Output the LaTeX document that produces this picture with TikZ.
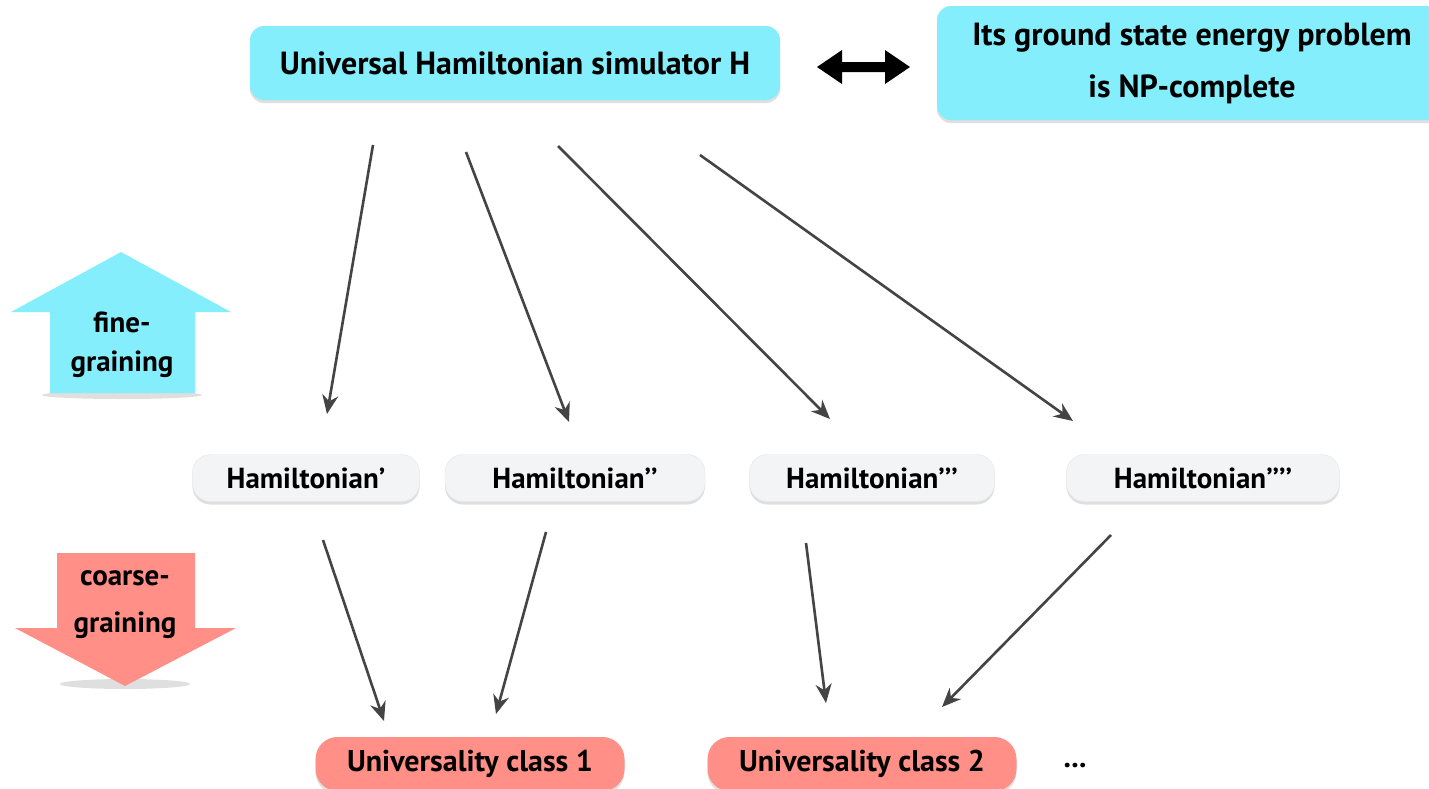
\documentclass[tikz,border=0pt]{standalone}
\usepackage{fontspec}
\setmainfont{PT Sans}
\usetikzlibrary{arrows.meta,shadows}
\definecolor{cyanfill}{HTML}{84EEFC}
\definecolor{pinkfill}{HTML}{FF8F87}
\definecolor{grayfill}{HTML}{F3F4F6}
\definecolor{arrowgray}{HTML}{444444}
\tikzset{
  base/.style={align=center, inner sep=0pt,
    drop shadow={shadow xshift=0pt, shadow yshift=-3pt, opacity=0.25}},
  topbox/.style={base, font=\fontsize{32}{40}\selectfont\bfseries, fill=cyanfill, rounded corners=14pt},
  hambox/.style={base, font=\fontsize{29}{34}\selectfont\bfseries, fill=grayfill, draw=black!10, rounded corners=18pt, minimum height=47pt},
  classbox/.style={base, font=\fontsize{30}{36}\selectfont\bfseries, fill=pinkfill, rounded corners=22pt, minimum height=54pt, minimum width=309pt},
  conn/.style={draw=arrowgray, line width=2.6pt, -{Stealth[length=19pt,width=16pt]}},
  bigarrowtext/.style={font=\fontsize{29}{34}\selectfont\bfseries, inner sep=0pt},
  floorshadow/.style={fill=black!35, opacity=0.35},
}
\begin{document}
\begin{tikzpicture}[x=1pt,y=-1pt]
\useasboundingbox (0,0) rectangle (1429,788);
\fill[white] (0,0) rectangle (1429,788);

% top nodes
\node[topbox, minimum width=530pt, minimum height=74pt] (sim) at (515,63) {Universal Hamiltonian simulator H};
\node[topbox, minimum width=510pt, minimum height=114pt] (np) at (1192,63) {Its ground state energy problem\\[12pt] is NP-complete};

% double block arrow
\fill[black] (817,67) -- (842,50) -- (842,62) -- (885,62) -- (885,50) -- (910,67)
  -- (885,84) -- (885,72) -- (842,72) -- (842,84) -- cycle;

% fine-graining arrow
\fill[floorshadow] (122,395) ellipse (80pt and 4pt);
\fill[cyanfill] (121,252) -- (231,312) -- (195,312) -- (195,393) -- (50,393) -- (50,312) -- (11,312) -- cycle;
\node[bigarrowtext] (fine1) at (122,322) {fine-};
\node[bigarrowtext] (fine2) at (122,364) {graining};

% coarse-graining arrow
\fill[floorshadow] (125,684) ellipse (65pt and 5pt);
\fill[pinkfill] (57,553) -- (195,553) -- (195,628) -- (236,628) -- (125,686) -- (15,628) -- (57,628) -- cycle;
\node[bigarrowtext] (coarse1) at (125,578) {coarse-};
\node[bigarrowtext] (coarse2) at (125,625) {graining};

% Hamiltonian nodes
\node[hambox, minimum width=227pt] (h1) at (306,478) {Hamiltonian’};
\node[hambox, minimum width=260pt] (h2) at (575,478) {Hamiltonian’’};
\node[hambox, minimum width=245pt] (h3) at (872,478) {Hamiltonian’’’};
\node[hambox, minimum width=273pt] (h4) at (1203,478) {Hamiltonian’’’’};

% class nodes
\node[classbox] (c1) at (470,764) {Universality class 1};
\node[classbox] (c2) at (862,764) {Universality class 2};
\node[font=\fontsize{30}{36}\selectfont\bfseries, inner sep=0pt] (dots) at (1075,766) {...};

% connector end points
\coordinate (a1s) at (373,145); \coordinate (a1e) at (327,414);
\coordinate (a2s) at (466,152); \coordinate (a2e) at (569,422);
\coordinate (a3s) at (558,146); \coordinate (a3e) at (830,419);
\coordinate (a4s) at (700,155); \coordinate (a4e) at (1073,421);
\coordinate (b1s) at (323,540); \coordinate (b1e) at (384,721);
\coordinate (b2s) at (546,532); \coordinate (b2e) at (496,714);
\coordinate (b3s) at (806,543); \coordinate (b3e) at (826,703);
\coordinate (b4s) at (1111,535); \coordinate (b4e) at (942,707);

\draw[conn] (a1s) -- (a1e);
\draw[conn] (a2s) -- (a2e);
\draw[conn] (a3s) -- (a3e);
\draw[conn] (a4s) -- (a4e);
\draw[conn] (b1s) -- (b1e);
\draw[conn] (b2s) -- (b2e);
\draw[conn] (b3s) -- (b3e);
\draw[conn] (b4s) -- (b4e);
\end{tikzpicture}
\end{document}
